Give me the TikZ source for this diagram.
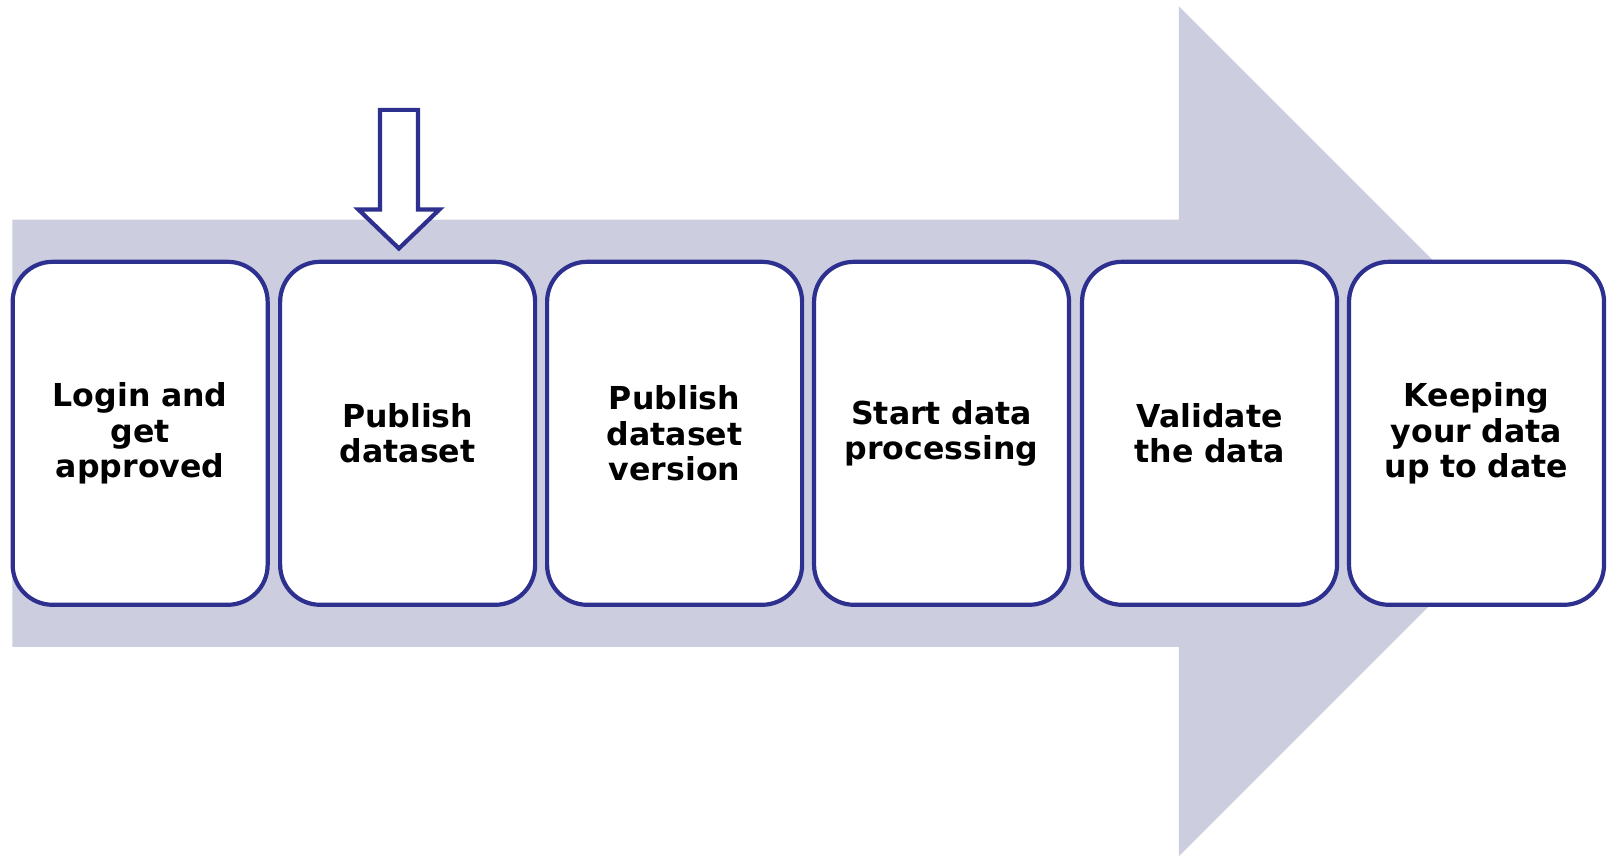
\documentclass[tikz,border=0pt]{standalone}
\usepackage{fontspec}
\setmainfont{DejaVu Sans}
\definecolor{navy}{HTML}{2E3090}
\definecolor{band}{HTML}{CDCDE0}
\begin{document}
\begin{tikzpicture}[x=0.5134pt,y=-0.5134pt,
  stepbox/.style={draw=navy, line width=2.1pt, fill=white, rounded corners=20pt,
    minimum width=127.5pt, minimum height=171.5pt, inner sep=0pt,
    align=center, font=\fontsize{15.8pt}{17.6pt}\selectfont\bfseries, text width=124pt}]
\useasboundingbox (0,0) rectangle (1568,833);
% big background arrow
\fill[band] (12,214) -- (1148,214) -- (1148,6) -- (1562,420) -- (1148,834) -- (1148,630) -- (12,630) -- cycle;
% steps
\node[stepbox] (s1) at (136.5,422) {Login and\\get\\approved};
\node[stepbox] (s2) at (397,422) {Publish\\dataset};
\node[stepbox] (s3) at (657,422) {Publish\\dataset\\version};
\node[stepbox] (s4) at (917,422) {Start data\\processing};
\node[stepbox] (s5) at (1178,422) {Validate\\the data};
\node[stepbox] (s6) at (1438,422) {Keeping\\your data\\up to date};
% hollow pointer arrow
\draw[navy, line width=2.1pt, fill=white, line join=miter]
  (370,107) -- (407,107) -- (407,204) -- (428,204) -- (388.5,242) -- (349,204) -- (370,204) -- cycle;
\end{tikzpicture}
\end{document}
